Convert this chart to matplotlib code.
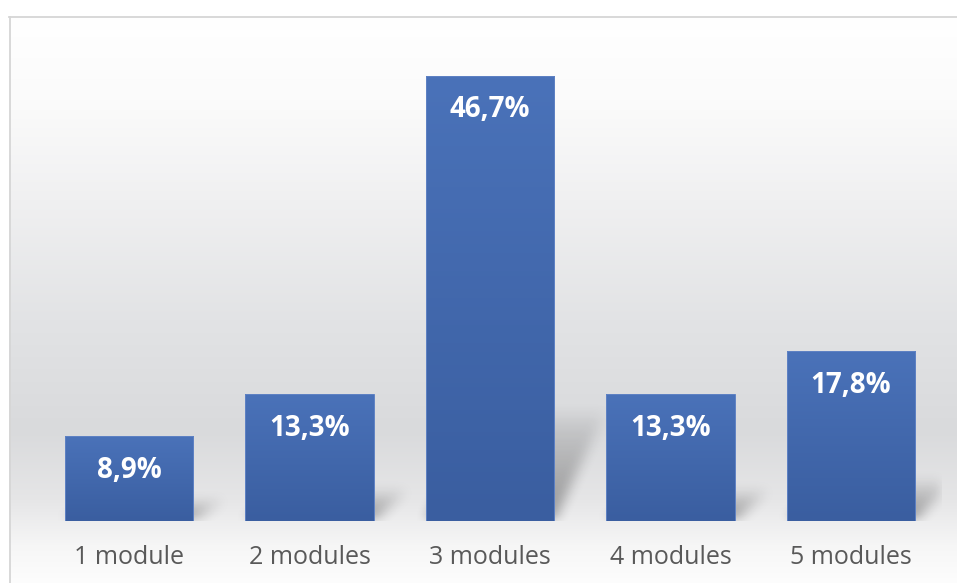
import numpy as np
import matplotlib
matplotlib.use("Agg")
import matplotlib.pyplot as plt
from matplotlib.colors import LinearSegmentedColormap, to_rgb

plt.rcParams["font.family"] = ["Open Sans", "DejaVu Sans"]

# données
categories = ["1 module", "2 modules", "3 modules", "4 modules", "5 modules"]
values = [8.9, 13.3, 46.7, 13.3, 17.8]
labels = ["8,9%", "13,3%", "46,7%", "13,3%", "17,8%"]

W, H, DPI = 957, 583, 100
fig = plt.figure(figsize=(W / DPI, H / DPI), dpi=DPI)
fig.patch.set_facecolor("white")

# fond dégradé (style Excel) dans le cadre
fx0, ftop = 9, 16
bg = fig.add_axes([fx0 / W, 0, 1 - fx0 / W, (H - ftop) / H])
bg.set_axis_off()
stops = [(16, "#ffffff"), (100, "#fbfbfb"), (200, "#f0f0f1"), (320, "#e2e3e5"),
         (430, "#d9dadc"), (500, "#e6e6e7"), (545, "#f6f6f6"), (583, "#fdfdfd")]
ys = np.arange(ftop, H)
grad = np.zeros((len(ys), 1, 3))
for c in range(3):
    grad[:, 0, c] = np.interp(ys, [s[0] for s in stops], [to_rgb(s[1])[c] for s in stops])
bg.imshow(grad, aspect="auto", extent=(0, 1, 0, 1), interpolation="bilinear")
bg.set_xlim(0, 1); bg.set_ylim(0, 1)

# cadre gris
fig.add_artist(plt.Line2D([(fx0 + 0.5) / W] * 2, [0, 1 - (ftop + 0.5) / H],
                          transform=fig.transFigure, color="#d6d6d6", lw=1.3))
fig.add_artist(plt.Line2D([fx0 / W, 1], [1 - (ftop + 0.5) / H] * 2,
                          transform=fig.transFigure, color="#d6d6d6", lw=1.3))

# axes principaux
ax_left, ax_w = 38.75, 902.5
base_y, ymax = 521, 50
px_per_unit = 9.53
ax = fig.add_axes([ax_left / W, (H - base_y) / H, ax_w / W, ymax * px_per_unit / H])
ax.patch.set_alpha(0)
x = np.arange(len(categories))
bw = 0.71
bars = ax.bar(x, values, width=bw, color="none", edgecolor="#5f82c4", lw=0.7, zorder=3)
ax.set_xlim(-0.5, len(categories) - 0.5)
ax.set_ylim(0, ymax)

# dégradé des barres
bar_cmap = LinearSegmentedColormap.from_list("b", ["#3a5ea0", "#4a72b9"])
for b in bars:
    x0, y1 = b.get_x(), b.get_height()
    im = ax.imshow(np.linspace(0, 1, 100).reshape(-1, 1), cmap=bar_cmap, origin="lower",
                   extent=(x0, x0 + b.get_width(), 0, y1), aspect="auto", zorder=2)
    im.set_clip_path(b)

# ombres en perspective (floues)
nx, ny = int(ax_w), int(ymax * px_per_unit)
sh = np.zeros((ny, nx))
ux = ax_w / len(categories)
for xi, v in zip(x, values):
    hpx = v * px_per_unit
    xl = (xi - bw / 2 + 0.5) * ux
    xr = (xi + bw / 2 + 0.5) * ux
    hs = 0.25 * hpx
    dx = 30 + 0.05 * hpx
    for py in range(int(hs)):
        t = py / hs
        a = int(max(xl + dx * t, 0)); b2 = int(min(xr + dx * t, nx))
        sh[py, a:b2] = np.maximum(sh[py, a:b2], 0.36 * (1 - t) ** 0.8)


def box_blur(img, r):
    k = np.ones(2 * r + 1) / (2 * r + 1)
    img = np.apply_along_axis(lambda m: np.convolve(m, k, mode="same"), 1, img)
    return np.apply_along_axis(lambda m: np.convolve(m, k, mode="same"), 0, img)


sh = box_blur(box_blur(sh, 7), 6)
rgba = np.zeros((ny, nx, 4))
rgba[..., 3] = sh
ax.imshow(rgba, origin="lower", extent=(-0.5, len(categories) - 0.5, 0, ymax),
          aspect="auto", zorder=1, interpolation="bilinear")

# étiquettes de valeur
for xi, v, lab in zip(x, values, labels):
    ax.annotate(lab, (xi, v), xytext=(0, -24.5), textcoords="offset points",
                ha="center", va="center", color="white", fontsize=20, fontweight="bold", zorder=4)

ax.set_xticks(x, categories)
ax.tick_params(axis="x", length=0, pad=17, labelsize=18, labelcolor="#595959")
ax.set_yticks([])
for s in ax.spines.values():
    s.set_visible(False)

fig.savefig("out.png", dpi=DPI)
